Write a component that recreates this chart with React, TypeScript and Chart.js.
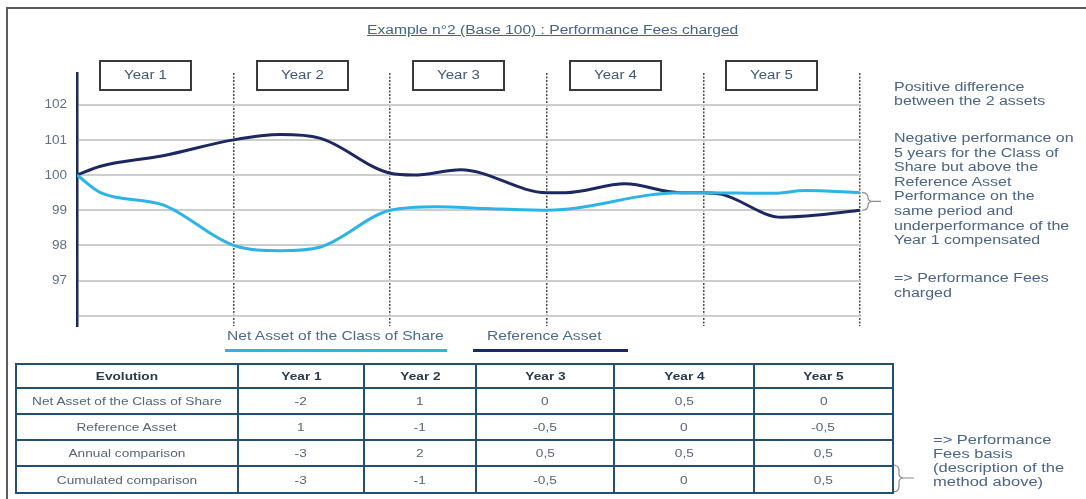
import React, { useEffect, useRef } from 'react';
import { Chart, registerables } from 'chart.js';

Chart.register(...registerables);

// ---------- data ----------
const yearLabels = ['Year 1', 'Year 2', 'Year 3', 'Year 4', 'Year 5'];
const seriesNames = ['Net Asset of the Class of Share', 'Reference Asset'];

// x in years (0 = start, 5 = end of Year 5), y in base 100
const netX = [0, 0.15, 0.55, 1.0, 1.3, 1.55, 2.0, 2.3, 2.6, 3.0, 3.85, 4.0, 4.45, 4.65, 5.0];
const netY = [100, 99.5, 99.15, 98.0, 97.85, 97.95, 99.0, 99.1, 99.05, 99.0, 99.5, 99.5, 99.48, 99.56, 99.5];

const refX = [0, 0.15, 0.55, 1.0, 1.3, 1.55, 2.0, 2.15, 2.45, 3.0, 3.12, 3.5, 3.85, 4.0, 4.12, 4.5, 4.75, 5.0];
const refY = [100, 100.25, 100.55, 101.0, 101.15, 101.05, 100.05, 100.0, 100.15, 99.5, 99.5, 99.75, 99.5, 99.5, 99.45, 98.8, 98.87, 99.0];

const yTickValues = [96, 97, 98, 99, 100, 101, 102];

const tableHeader = ['Evolution', 'Year 1', 'Year 2', 'Year 3', 'Year 4', 'Year 5'];
const rowLabels = ['Net Asset of the Class of Share', 'Reference Asset', 'Annual comparison', 'Cumulated comparison'];
const netAnnual = ['-2', '1', '0', '0,5', '0'];
const refAnnual = ['1', '-1', '-0,5', '0', '-0,5'];
const annualComparison = ['-3', '2', '0,5', '0,5', '0,5'];
const cumulatedComparison = ['-3', '-1', '-0,5', '0', '0,5'];

const titleText = 'Example  n°2 (Base 100) : Performance Fees charged';
const noteTop = ['Positive difference', 'between  the 2 assets'];
const noteMiddle = [
  'Negative  performance on',
  '5 years for the Class of',
  'Share but above the',
  'Reference Asset',
  'Performance on the',
  'same period and',
  'underperformance of the',
  'Year 1 compensated',
];
const noteBottom = ['=> Performance Fees', 'charged'];
const noteTable = ['=> Performance', 'Fees basis', '(description of the', 'method  above)'];

// ---------- styles ----------
const FONT = '"Liberation Sans", Arial, Helvetica, sans-serif';
const NET_COLOR = '#2cb4e6';
const REF_COLOR = '#1c2860';

const overlayPlugin = {
  id: 'overlay',
  afterDraw(chart: any) {
    const { ctx, scales } = chart;
    const x = scales.x;
    const y = scales.y;
    ctx.save();
    // year boxes
    yearLabels.forEach((lab, i) => {
      const left = Math.round(x.getPixelForValue(i)) + 23;
      const w = 91;
      const top = 61;
      const h = 29;
      ctx.lineWidth = 2;
      ctx.strokeStyle = '#3a3a3a';
      ctx.strokeRect(left, top, w, h);
      ctx.fillStyle = '#3e5878';
      ctx.font = `12px ${FONT}`;
      ctx.textAlign = 'center';
      ctx.textBaseline = 'middle';
      ctx.save();
      ctx.translate(left + w / 2, top + h / 2);
      ctx.scale(1.25, 1);
      ctx.fillText(lab, 0, 0);
      ctx.restore();
    });
    // brace at the end of the period
    const bx = x.getPixelForValue(5) + 2;
    const y1 = y.getPixelForValue(netY[netY.length - 1]);
    const y2 = y.getPixelForValue(refY[refY.length - 1]);
    const ym = (y1 + y2) / 2;
    ctx.strokeStyle = '#8c8c8c';
    ctx.lineWidth = 1.2;
    ctx.beginPath();
    ctx.moveTo(bx, y1);
    ctx.quadraticCurveTo(bx + 6, y1, bx + 6, y1 + 5);
    ctx.lineTo(bx + 6, ym - 4);
    ctx.quadraticCurveTo(bx + 6, ym, bx + 11, ym);
    ctx.quadraticCurveTo(bx + 6, ym, bx + 6, ym + 4);
    ctx.lineTo(bx + 6, y2 - 5);
    ctx.quadraticCurveTo(bx + 6, y2, bx, y2);
    ctx.moveTo(bx + 11, ym);
    ctx.lineTo(bx + 19, ym);
    ctx.stroke();
    ctx.restore();
  },
};

function Stretch({ k, children, origin = 'left center' }: { k: number; children: any; origin?: string }) {
  return (
    <span style={{ display: 'inline-block', transform: `scaleX(${k})`, transformOrigin: origin, whiteSpace: 'nowrap' }}>
      {children}
    </span>
  );
}

function TextBlock({ lines, left, top, size, lh, k, color }: any) {
  return (
    <div style={{ position: 'absolute', left, top, fontFamily: FONT, fontSize: size, lineHeight: lh, color }}>
      {lines.map((l: string, i: number) => (
        <div key={i} style={{ height: lh, whiteSpace: 'pre' }}>
          <Stretch k={k}>{l}</Stretch>
        </div>
      ))}
    </div>
  );
}

export default function App() {
  const canvasRef = useRef<HTMLCanvasElement>(null);

  useEffect(() => {
    const chart = new Chart(canvasRef.current as HTMLCanvasElement, {
      type: 'line',
      data: {
        datasets: [
          {
            label: seriesNames[0],
            data: netX.map((v, i) => ({ x: v, y: netY[i] })),
            borderColor: NET_COLOR,
            borderWidth: 3,
            pointRadius: 0,
            cubicInterpolationMode: 'monotone',
            fill: false,
          },
          {
            label: seriesNames[1],
            data: refX.map((v, i) => ({ x: v, y: refY[i] })),
            borderColor: REF_COLOR,
            borderWidth: 3,
            pointRadius: 0,
            cubicInterpolationMode: 'monotone',
            fill: false,
          },
        ],
      },
      options: {
        animation: false,
        responsive: false,
        layout: { padding: { top: 73, bottom: 173, right: 226, left: 0 } },
        plugins: { legend: { display: false }, tooltip: { enabled: false } },
        scales: {
          x: {
            type: 'linear',
            min: 0,
            max: 5,
            ticks: { display: false, stepSize: 1 },
            grid: {
              drawTicks: false,
              color: (c: any) => (c.tick && c.tick.value === 0 ? 'rgba(0,0,0,0)' : '#4d4d4d'),
              lineWidth: 1.5,
            },
            border: { display: false, dash: [2, 1.5] },
            afterFit: (s: any) => {
              s.height = 0;
            },
          },
          y: {
            min: 95.71,
            max: 102.9,
            afterBuildTicks: (s: any) => {
              s.ticks = yTickValues.map((v) => ({ value: v }));
            },
            ticks: {
              callback: (v: any) => (v === 96 ? '' : String(v)),
              padding: 10,
              color: '#5e7186',
              font: { family: FONT, size: 13.5 },
            },
            grid: { drawTicks: false, color: '#cdcdcd', lineWidth: 2 },
            border: { display: true, color: '#1b2a55', width: 2.5 },
            afterFit: (s: any) => {
              s.width = 77;
            },
          },
        },
      },
      plugins: [overlayPlugin],
    } as any);
    return () => chart.destroy();
  }, []);

  const colWidths = [222, 126, 112, 138, 140, 139];
  const rowHeights = [24, 26, 26, 26, 27];
  const bodyRows = [netAnnual, refAnnual, annualComparison, cumulatedComparison];
  const cellBorder = '2px solid #22506e';

  return (
    <div style={{ position: 'absolute', left: 0, top: 0, width: 1086, height: 499, overflow: 'hidden', background: '#fff' }}>
      {/* frame */}
      <div
        style={{
          position: 'absolute',
          left: 6,
          top: 7,
          width: 1200,
          height: 600,
          borderLeft: '2.5px solid #5c5c5c',
          borderTop: '2.5px solid #5c5c5c',
        }}
      />
      <canvas ref={canvasRef} width={1086} height={499} style={{ position: 'absolute', left: 0, top: 0, width: 1086, height: 499 }} />

      {/* title */}
      <div
        style={{
          position: 'absolute',
          left: 367,
          top: 23,
          fontFamily: FONT,
          fontSize: 12,
          lineHeight: '14px',
          color: '#41658c',
          whiteSpace: 'pre',
        }}
      >
        <Stretch k={1.3}>
          <span style={{ textDecoration: 'underline' }}>{titleText}</span>
        </Stretch>
      </div>

      {/* legend */}
      <div style={{ position: 'absolute', left: 227, top: 329, fontFamily: FONT, fontSize: 12, lineHeight: '14px', color: '#4d6a8a' }}>
        <Stretch k={1.3}>{seriesNames[0]}</Stretch>
      </div>
      <div style={{ position: 'absolute', left: 225, top: 349, width: 222, height: 3, background: NET_COLOR }} />
      <div style={{ position: 'absolute', left: 487, top: 329, fontFamily: FONT, fontSize: 12, lineHeight: '14px', color: '#4d6a8a' }}>
        <Stretch k={1.3}>{seriesNames[1]}</Stretch>
      </div>
      <div style={{ position: 'absolute', left: 473, top: 349, width: 155, height: 3, background: REF_COLOR }} />

      {/* right-hand notes */}
      <TextBlock lines={noteTop} left={894} top={80} size={12.5} lh="14.2px" k={1.28} color="#4a6585" />
      <TextBlock lines={noteMiddle} left={894} top={131} size={12.5} lh="14.6px" k={1.28} color="#4a6585" />
      <TextBlock lines={noteBottom} left={894} top={271} size={12.5} lh="15px" k={1.28} color="#4a6585" />
      <TextBlock lines={noteTable} left={933} top={433} size={12.5} lh="14px" k={1.32} color="#4a6585" />

      {/* brace beside table */}
      <svg style={{ position: 'absolute', left: 890, top: 462, width: 40, height: 34 }} width={40} height={34}>
        <path
          d="M2 3 Q9 3 9 8 L9 12 Q9 16 14 16 Q9 16 9 20 L9 25 Q9 30 2 30 M14 16 L24 16"
          fill="none"
          stroke="#8c8c8c"
          strokeWidth={1.2}
        />
      </svg>

      {/* table */}
      <table
        style={{
          position: 'absolute',
          left: 15,
          top: 363,
          width: 877,
          borderCollapse: 'collapse',
          tableLayout: 'fixed',
          fontFamily: FONT,
          fontSize: 10.5,
        }}
      >
        <colgroup>
          {colWidths.map((w, i) => (
            <col key={i} style={{ width: w }} />
          ))}
        </colgroup>
        <tbody>
          <tr style={{ height: rowHeights[0] }}>
            {tableHeader.map((h, i) => (
              <td
                key={i}
                style={{ border: cellBorder, textAlign: 'center', padding: 0, fontWeight: 'bold', color: '#2b3a4f' }}
              >
                <Stretch k={1.3} origin="center">{h}</Stretch>
              </td>
            ))}
          </tr>
          {bodyRows.map((row, r) => (
            <tr key={r} style={{ height: rowHeights[r + 1] }}>
              <td style={{ border: cellBorder, textAlign: 'center', padding: 0, color: '#566578' }}>
                <Stretch k={1.3} origin="center">{rowLabels[r]}</Stretch>
              </td>
              {row.map((v, i) => (
                <td key={i} style={{ border: cellBorder, textAlign: 'center', padding: 0, color: '#566578' }}>
                  <Stretch k={1.3} origin="center">{v}</Stretch>
                </td>
              ))}
            </tr>
          ))}
        </tbody>
      </table>
    </div>
  );
}
